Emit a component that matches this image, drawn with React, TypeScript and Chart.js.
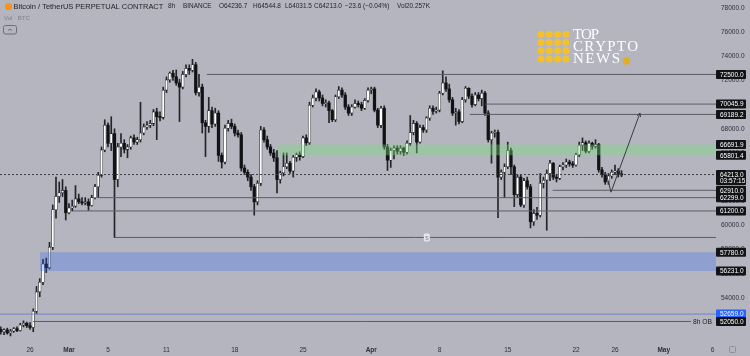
import React, { useEffect, useRef } from 'react';
import { Chart, registerables } from 'chart.js';

Chart.register(...registerables);

// ---- DATA ----
// 8h candles [open, high, low, close]; first candle Feb 23 2024 00:00 UTC.
// x unit = days since Feb 26 2024 00:00 UTC.
const FIRST_CANDLE_DAY = -3;
const CANDLE_STEP = 1 / 3;

const candles: number[][] = [
  [51400,51600,51000,51200],[51200,51450,50950,51350],[51350,51500,51000,51100],
  [51100,51400,50850,51250],[51250,51550,51150,51450],[51450,51600,51200,51300],
  [51300,51900,51250,51750],[51750,52100,51600,51900],[51900,52000,51550,51700],
  [51700,51950,51400,51550],[51550,53100,51200,52900],[52900,54950,52700,54500],
  [54500,55600,54100,55300],[55300,57200,55100,56800],[56800,57300,56100,56500],
  [56500,58600,56400,58200],[58200,61700,58000,61300],[61300,64000,60600,62400],
  [62400,63600,61900,62700],[62700,63800,62400,62900],[62900,63200,60450,61050],
  [61050,61800,60950,61450],[61450,62100,61200,61600],[61600,63300,61500,62200],
  [62200,62600,61800,61950],[61950,62300,61700,61850],[61850,62300,61700,61950],
  [61950,62200,61250,61650],[61650,62500,61600,62300],[62300,63400,62200,63200],
  [63200,64400,62300,64150],[64150,66500,64000,66250],[66250,68750,66100,68300],
  [68300,68500,66500,66800],[66800,69000,66200,67600],[67600,68000,59005,63800],
  [63800,66800,63200,66500],[66500,67600,65700,66800],[66800,67100,66000,66300],
  [66300,66700,65600,66500],[66500,67400,66300,67250],[67250,67500,66700,66900],
  [66900,67300,66700,67100],[67100,70200,66900,67650],[67650,68400,67500,68150],
  [68150,68600,67950,68300],[68300,68700,68100,68450],[68450,69600,68250,69400],
  [69400,69700,67100,69000],[69000,69400,68650,68950],[68950,71450,68800,71200],
  [71200,72300,71000,72050],[72050,72700,71850,72600],[72600,72850,72000,72300],
  [72300,72870,71600,71800],[71800,72100,68600,71450],[71450,72750,71300,72500],
  [72500,73300,72300,73000],[73000,73300,72500,72850],[72850,73750,72700,73300],
  [73300,73500,70800,71000],[71000,72500,70700,71450],[71450,71700,67650,68500],
  [68500,68700,65700,68200],[68200,70600,67700,69500],[69500,69800,68100,68400],
  [68400,69700,68200,69300],[69300,69500,65300,65800],[65800,66000,64750,65250],
  [65250,68300,65100,68050],[68050,68700,67800,68450],[68450,68800,68000,68200],
  [68200,68400,67400,67650],[67650,67900,67300,67500],[67500,67700,64500,64750],
  [64750,65000,64200,64400],[64400,64600,63700,64000],[64000,64200,62900,63200],
  [63200,63400,60850,61950],[61950,63700,61700,63500],[63500,68200,63300,67900],
  [67900,68100,66900,67100],[67100,67400,66300,66500],[66500,66700,65800,66000],
  [66000,66300,65300,65600],[65600,66200,62700,63800],[63800,64500,63500,64350],
  [64350,66000,64100,64850],[64850,66000,64700,65150],[65150,65300,64300,64500],
  [64500,65800,64000,65650],[65650,66000,65300,65850],[65850,66100,65400,65700],
  [65700,67400,65600,67250],[67250,67500,66600,66850],[66850,70200,66700,69950],
  [69950,70800,69800,70550],[70550,71300,70300,71050],[71050,71200,70300,70550],
  [70550,70800,69900,70100],[70100,70400,69800,70150],[70150,70300,68500,69500],
  [69500,69600,68600,68750],[68750,70800,68600,70650],[70650,71500,70500,71200],
  [71200,71400,70600,70800],[70800,71000,69600,69800],[69800,70000,69100,69300],
  [69300,70000,69100,69800],[69800,70400,69700,70100],[70100,70300,69800,70000],
  [70000,70200,69500,69700],[69700,70500,69600,70350],[70350,71400,70200,71200],
  [71200,71450,70900,71300],[71300,71450,69400,69550],[69550,69700,68100,68300],
  [68300,69850,68100,69700],[69700,69900,66300,66500],[66500,66700,64550,65400],
  [65400,66400,64800,66200],[66200,66600,65500,66400],[66400,66600,65900,66150],
  [66150,66600,65900,66400],[66400,66500,65800,66050],[66050,67000,65900,66800],
  [66800,69100,66600,67700],[67700,68700,67500,68450],[68450,68600,66000,66900],
  [66900,68300,66800,68100],[68100,68300,67700,67900],[67900,69000,67700,68900],
  [68900,69900,68700,69700],[69700,69900,69200,69450],[69450,69800,69300,69550],
  [69550,71100,69400,70950],[70950,72800,70800,71800],[71800,72300,71100,71300],
  [71300,71700,70200,70400],[70400,70600,69100,69300],[69300,69700,68300,69400],
  [69400,69600,68400,68600],[68600,70600,68500,70400],[70400,71500,70200,71350],
  [71350,71400,70500,70700],[70700,70900,69800,70000],[70000,71000,69900,70800],
  [70800,71000,70300,70500],[70500,71200,69900,70950],[70950,71100,69100,69300],
  [69300,69500,66900,67100],[67100,67800,65150,67650],[67650,67900,67300,67700],
  [67700,67900,60650,64000],[64000,64600,63800,64400],[64400,65100,62300,64850],
  [64850,66900,64700,66200],[66200,66400,64200,64850],[64850,65000,61550,62550],
  [62550,64200,62300,64000],[64000,64200,61550,61700],[61700,63900,61500,63700],
  [63700,64000,63000,63200],[63200,63400,59800,60300],[60300,61300,60000,61000],
  [61000,61500,60500,60850],[60850,64300,60700,63500],[63500,64000,63100,63750],
  [63750,64600,59600,64300],[64300,65400,63700,65150],[65150,65200,63800,64000],
  [64000,64200,63600,63900],[63900,65000,63800,64850],[64850,65200,64600,65000],
  [65000,65500,64800,65250],[65250,65400,64900,65100],[65100,65300,64800,65000],
  [65000,66000,64900,65850],[65850,66900,65700,66650],[66650,67250,66200,66850],
  [66850,67000,66000,66150],[66150,67000,66000,66800],[66800,66900,66300,66550],
  [66550,67100,66400,66700],[66700,66800,64400,64600],[64600,64800,64000,64200],
  [64200,64400,63400,63600],[63600,64300,63400,64100],[64100,64600,63900,64400],
  [64400,65000,64200,64500],[64500,64700,64000,64240],[64236.7,64544.8,64031.5,64213.0],
];

const xTickDays = [0, 4, 8, 14, 21, 28, 35, 42, 49, 56, 60, 65, 70];
const xTickLabels = ['26', 'Mar', '5', '11', '18', '25', 'Apr', '8', '15', '22', '26', 'May', '6'];
const xTickBold = [false, true, false, false, false, false, true, false, false, false, false, true, false];
const yTicks = [52000, 54000, 56000, 58000, 60000, 62000, 64000, 66000, 68000, 70000, 72000, 74000, 76000, 78000];

const levelPrices = [72500, 70045.9, 69189.2, 62910, 62299, 61200, 59005, 52050];
const levelStartDays = [18.15, 46.7, 45.1, 53.6, 6.97, 4.41, 8.72, 0.31];
const levelEndDays = [70.36, 70.36, 70.36, 70.36, 70.36, 70.36, 70.36, 67.8];
const greenZone = [66691.9, 65801.4];
const greenZoneStartDay = 25.44;
const blueZone = [57780.0, 56231.0];
const blueZoneStartDay = 1.03;
const lastPrice = 64213.0;
const alertPrice = 52659.0;
const pathDays = [59.15, 59.59, 62.56];
const pathPrices = [64175, 62750, 69300];
const axisLabelPrices = [72500.0, 70045.9, 69189.2, 66691.9, 65801.4, 64213.0, 62910.0, 62299.0, 61200.0, 57780.0, 56231.0, 52659.0, 52050.0];
const countdownText = '03:57:15';
const headerTitle = 'Bitcoin / TetherUS PERPETUAL CONTRACT';
const headerParts = ['8h', 'BINANCE', 'O64236.7', 'H64544.8', 'L64031.5', 'C64213.0', '\u221223.6 (\u22120.04%)', 'Vol20.257K'];
const obLabel = '8h OB';
const markerDay = 40.7;
const markerPrice = 59005;

// ---- LAYOUT / STYLE ----
const X_MIN = -3.077, X_MAX = 70.36, Y_MIN = 50351, Y_MAX = 78662;
const BG = '#b4b5bf';
const SANS = '"Liberation Sans", Arial, sans-serif';
const SERIF = '"Liberation Serif", "DejaVu Serif", serif';

function fitSize(ctx: CanvasRenderingContext2D, text: string, width: number, family: string) {
  ctx.font = `10px ${family}`;
  return (10 * width) / ctx.measureText(text).width;
}

function spacedText(ctx: CanvasRenderingContext2D, text: string, x: number, yc: number, width: number) {
  const ws = text.split('').map((c) => ctx.measureText(c).width);
  const total = ws.reduce((a, b) => a + b, 0);
  const gap = (width - total) / (text.length - 1);
  let cx = x;
  text.split('').forEach((c, i) => {
    ctx.fillText(c, cx, yc);
    cx += ws[i] + gap;
  });
}

const bgPlugin = {
  id: 'bg',
  beforeDraw(chart: any) {
    const { ctx } = chart;
    ctx.save();
    ctx.fillStyle = BG;
    ctx.fillRect(0, 0, chart.width, chart.height);
    ctx.restore();
  },
};

const overlayPlugin = {
  id: 'overlay',
  afterDraw(chart: any) {
    const { ctx } = chart;
    const xs = chart.scales.x;
    const ys = chart.scales.y;
    ctx.save();

    // arrow head at the end of the projected path
    const p1x = xs.getPixelForValue(pathDays[1]);
    const p1y = ys.getPixelForValue(pathPrices[1]);
    const p2x = xs.getPixelForValue(pathDays[2]);
    const p2y = ys.getPixelForValue(pathPrices[2]);
    const ang = Math.atan2(p2y - p1y, p2x - p1x);
    ctx.strokeStyle = '#3a3b42';
    ctx.lineWidth = 1;
    ctx.beginPath();
    ctx.moveTo(p2x - 4 * Math.cos(ang - 0.5), p2y - 4 * Math.sin(ang - 0.5));
    ctx.lineTo(p2x, p2y);
    ctx.lineTo(p2x - 4 * Math.cos(ang + 0.5), p2y - 4 * Math.sin(ang + 0.5));
    ctx.stroke();

    ctx.textAlign = 'left';
    ctx.textBaseline = 'middle';

    // "8h OB" text
    const obY = ys.getPixelForValue(levelPrices[7]);
    ctx.fillStyle = '#222';
    ctx.font = `${fitSize(ctx, obLabel, 19, SANS)}px ${SANS}`;
    ctx.fillText(obLabel, xs.getPixelForValue(levelEndDays[7]) + 2, obY + 0.5);

    // $ marker
    const mx = xs.getPixelForValue(markerDay);
    const my = ys.getPixelForValue(markerPrice);
    ctx.fillStyle = '#e6e7ee';
    ctx.beginPath();
    ctx.roundRect(mx - 3, my - 4, 6, 8, 1.5);
    ctx.fill();
    ctx.fillStyle = '#8a8b95';
    ctx.font = `6px ${SANS}`;
    ctx.textAlign = 'center';
    ctx.fillText('$', mx, my + 0.5);
    ctx.textAlign = 'left';

    // price axis labels
    const bx = chart.chartArea.right;
    ctx.font = `6.5px ${SANS}`;
    axisLabelPrices.forEach((p) => {
      const py = ys.getPixelForValue(p);
      const isLast = p === lastPrice;
      const isAlert = p === alertPrice;
      const h = isLast ? 15 : 9;
      ctx.fillStyle = isAlert ? '#2962ff' : '#121316';
      ctx.beginPath();
      ctx.roundRect(bx, py - 4.5, 30, h, 1);
      ctx.fill();
      ctx.fillStyle = '#ffffff';
      ctx.fillText(p.toFixed(1), bx + 4, py + 0.5);
      if (isLast) ctx.fillText(countdownText, bx + 4, py + 7);
    });

    // header
    const hx = [168, 183, 219, 253, 285, 314, 345, 397];
    const hw = [9, 32, 31, 29, 27, 28, 48, 36];
    ctx.fillStyle = '#f7931a';
    ctx.beginPath();
    ctx.arc(8.5, 6.5, 3.5, 0, Math.PI * 2);
    ctx.fill();
    ctx.fillStyle = '#1f2026';
    ctx.font = `${fitSize(ctx, headerTitle, 150, SANS)}px ${SANS}`;
    ctx.fillText(headerTitle, 13.5, 6.7);
    const hs = Math.min(...headerParts.map((t, i) => fitSize(ctx, t, hw[i], SANS)));
    ctx.font = `${hs}px ${SANS}`;
    ctx.fillStyle = '#1f2026';
    headerParts.forEach((t, i) => ctx.fillText(t, hx[i], 6.7));
    ctx.fillStyle = '#7f808a';
    ctx.font = `${fitSize(ctx, 'Vol \u00b7 BTC', 26, SANS)}px ${SANS}`;
    ctx.fillText('Vol \u00b7 BTC', 4, 18.5);
    ctx.strokeStyle = '#6c6d76';
    ctx.lineWidth = 1;
    ctx.beginPath();
    ctx.roundRect(3.5, 25.5, 13, 8.5, 2);
    ctx.stroke();
    ctx.beginPath();
    ctx.moveTo(8, 30.5);
    ctx.lineTo(10, 29);
    ctx.lineTo(12, 30.5);
    ctx.stroke();

    // watermark logo
    ctx.fillStyle = '#f3c12c';
    for (let r = 0; r < 4; r++) {
      for (let c = 0; c < 4; c++) {
        ctx.beginPath();
        ctx.arc(541 + c * 8.3, 34.2 + r * 8.3, 3.5, 0, Math.PI * 2);
        ctx.fill();
      }
    }
    ctx.fillStyle = '#ffffff';
    ctx.font = `15px ${SERIF}`;
    spacedText(ctx, 'TOP', 573, 35, 26);
    spacedText(ctx, 'CRYPTO', 573, 47, 65);
    spacedText(ctx, 'NEWS', 573, 59, 47);
    ctx.fillStyle = '#e3ad25';
    ctx.beginPath();
    ctx.arc(626.5, 61, 3.8, 0, Math.PI * 2);
    ctx.fill();

    // small settings icon bottom right
    ctx.strokeStyle = '#8e8f99';
    ctx.beginPath();
    ctx.roundRect(729.5, 346.5, 6, 6, 1);
    ctx.stroke();

    ctx.restore();
  },
};

export default function App() {
  const ref = useRef<HTMLCanvasElement>(null);

  useEffect(() => {
    const canvas = ref.current;
    if (!canvas) return;
    const xsDays = candles.map((_, i) => FIRST_CANDLE_DAY + i * CANDLE_STEP);
    const up = candles.map((c) => c[3] >= c[0]);

    const bodyData = candles.map((c, i) => {
      let lo = Math.min(c[0], c[3]);
      let hi = Math.max(c[0], c[3]);
      if (hi - lo < 80) {
        const m = (hi + lo) / 2;
        lo = m - 40;
        hi = m + 40;
      }
      return { x: xsDays[i], y: [lo, hi] };
    });
    const wickData = candles.map((c, i) => ({ x: xsDays[i], y: [c[2], c[1]] }));

    const lineDs = (data: any[], color: string, extra: any = {}) => ({
      type: 'line',
      data,
      borderColor: color,
      borderWidth: 1,
      pointRadius: 0,
      tension: 0,
      fill: false,
      order: 2,
      ...extra,
    });

    const datasets: any[] = [
      ...levelPrices.map((p, i) =>
        lineDs([{ x: levelStartDays[i], y: p }, { x: levelEndDays[i], y: p }], '#5b5d66')
      ),
      lineDs([{ x: X_MIN, y: lastPrice }, { x: X_MAX, y: lastPrice }], '#3b3c44', { borderDash: [2, 2] }),
      lineDs([{ x: X_MIN, y: alertPrice }, { x: X_MAX, y: alertPrice }], '#7383c6'),
      lineDs([{ x: greenZoneStartDay, y: greenZone[0] }, { x: X_MAX, y: greenZone[0] }], 'rgba(0,0,0,0)', {
        borderWidth: 0,
        backgroundColor: 'rgba(120,220,120,0.38)',
        fill: { value: greenZone[1] },
        order: 1,
      }),
      lineDs([{ x: blueZoneStartDay, y: blueZone[0] }, { x: X_MAX, y: blueZone[0] }], 'rgba(0,0,0,0)', {
        borderWidth: 0,
        backgroundColor: 'rgba(41,98,255,0.27)',
        fill: { value: blueZone[1] },
        order: 1,
      }),
      lineDs(pathDays.map((d, i) => ({ x: d, y: pathPrices[i] })), '#3a3b42', { order: 0 }),
      {
        type: 'bar',
        data: bodyData,
        barThickness: 2.6,
        grouped: false,
        backgroundColor: up.map((u) => (u ? '#ffffff' : '#111214')),
        borderColor: '#1a1b1f',
        borderWidth: up.map((u) => (u ? 0.6 : 0)),
        borderSkipped: false,
        order: 3,
      },
      {
        type: 'bar',
        data: wickData,
        barThickness: 1,
        grouped: false,
        backgroundColor: '#24252a',
        order: 4,
      },
    ];

    const chart = new Chart(canvas, {
      type: 'bar',
      data: { datasets },
      options: {
        responsive: false,
        devicePixelRatio: 1,
        animation: false,
        events: [],
        layout: { padding: 0 },
        plugins: { legend: { display: false }, tooltip: { enabled: false } },
        scales: {
          x: {
            type: 'linear',
            min: X_MIN,
            max: X_MAX,
            offset: false,
            grid: { display: false, drawTicks: false },
            border: { display: false },
            afterBuildTicks: (s: any) => {
              s.ticks = xTickDays.map((v) => ({ value: v }));
            },
            afterFit: (s: any) => {
              s.height = 14;
              s.paddingLeft = 0;
              s.paddingRight = 0;
            },
            ticks: {
              autoSkip: false,
              maxRotation: 0,
              minRotation: 0,
              padding: 4,
              color: '#2e2f36',
              font: (ctx: any) => ({ family: SANS, size: 6.5, weight: xTickBold[ctx.index] ? 'bold' : 'normal' }),
              callback: (_v: any, i: number) => xTickLabels[i],
            },
          },
          y: {
            type: 'linear',
            position: 'right',
            min: Y_MIN,
            max: Y_MAX,
            beginAtZero: false,
            grid: { display: false, drawTicks: false },
            border: { display: false },
            afterBuildTicks: (s: any) => {
              s.ticks = yTicks.map((v) => ({ value: v }));
            },
            afterFit: (s: any) => {
              s.width = 34;
              s.paddingTop = 0;
              s.paddingBottom = 0;
            },
            ticks: {
              padding: 5,
              color: '#2e2f36',
              font: { family: SANS, size: 6.5 },
              callback: (v: any) => Number(v).toFixed(1),
            },
          },
        },
      } as any,
      plugins: [bgPlugin, overlayPlugin],
    } as any);

    return () => chart.destroy();
  }, []);

  return (
    <div style={{ position: 'absolute', left: 0, top: 0, width: 750, height: 356 }}>
      <canvas ref={ref} width={750} height={356} style={{ display: 'block', width: 750, height: 356 }} />
    </div>
  );
}
